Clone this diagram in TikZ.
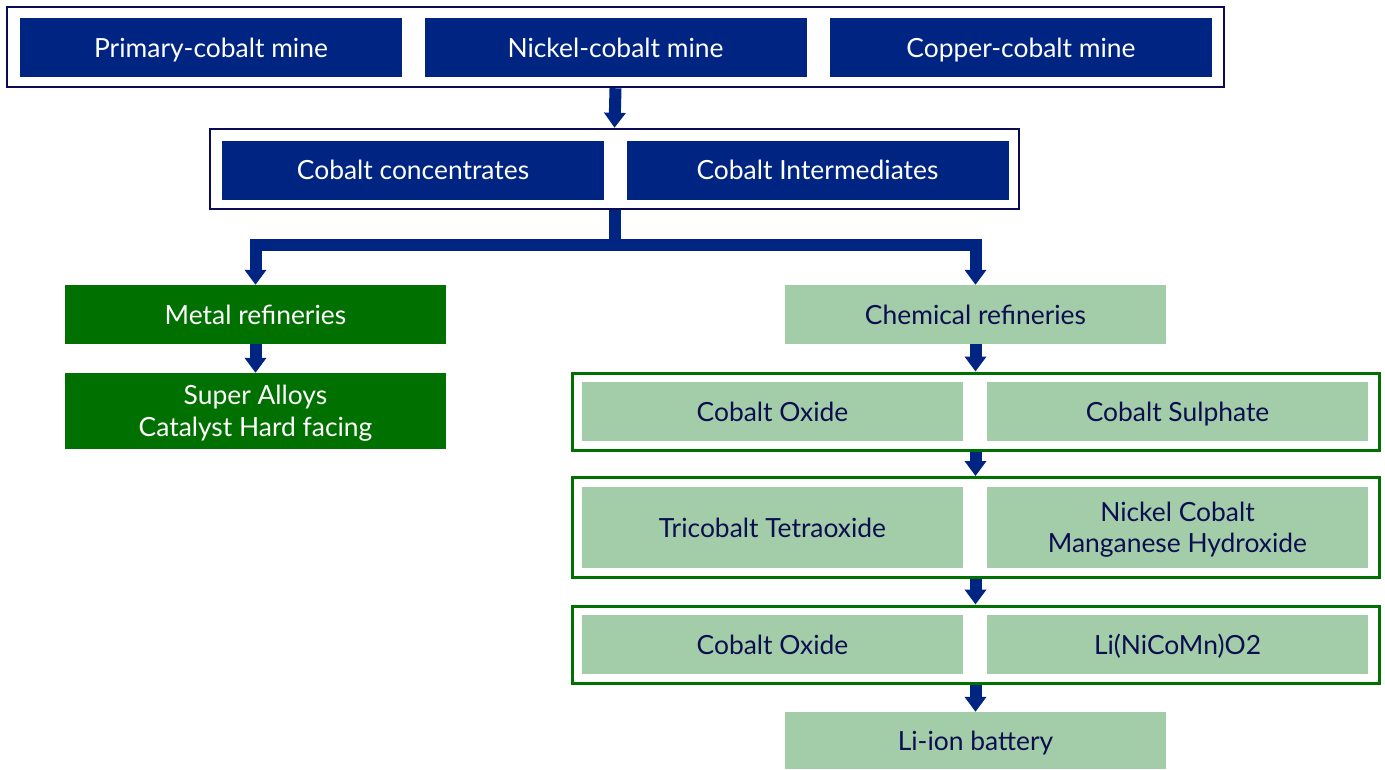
\documentclass[tikz,border=0pt]{standalone}
\usepackage{fontspec}
\setmainfont{Lato}
\usetikzlibrary{arrows.meta}
\definecolor{navy}{RGB}{0,36,130}
\definecolor{framenavy}{RGB}{10,10,85}
\definecolor{dgreen}{RGB}{0,112,0}
\definecolor{lgreen}{RGB}{163,205,168}
\definecolor{txtnavy}{RGB}{12,14,80}
\newcommand\cstrut{\rule[-0.3em]{0pt}{1.32em}}
\newcommand\tstr{\rule{0pt}{1.02em}}
\newcommand\bstr{\rule[-0.3em]{0pt}{0.3em}}
\tikzset{
  base/.style={rectangle, inner sep=0pt, align=center, font=\fontsize{26.5}{31.5}\selectfont},
  navybox/.style={base, fill=navy, text=white, minimum width=382bp, minimum height=59bp},
  dgbox/.style={base, fill=dgreen, text=white, minimum width=381bp},
  lgbox/.style={base, fill=lgreen, text=txtnavy, minimum width=381bp},
  navyframe/.style={rectangle, draw=framenavy, line width=2.5bp, inner sep=0pt},
  greenframe/.style={rectangle, draw=dgreen, line width=3bp, inner sep=0pt},
  flow/.style={draw=navy, line width=12bp},
  flowarrow/.style={flow, -{Triangle[width=21bp,length=15bp]}},
}
\begin{document}
\begin{tikzpicture}[x=1bp,y=-1bp]
\useasboundingbox (0,0) rectangle (1385,769);
% top frame
\node[navyframe, minimum width=1217bp, minimum height=80bp] (f1) at (615.5,47) {};
\node[navybox] (pcm) at (211,47.5) {Primary-cobalt mine\cstrut};
\node[navybox] (ncm) at (615.5,47.5) {Nickel-cobalt mine\cstrut};
\node[navybox] (ccm) at (1021,47.5) {Copper-cobalt mine\cstrut};
% second frame
\node[navyframe, minimum width=809bp, minimum height=80bp] (f2) at (614.5,169) {};
\node[navybox] (conc) at (413,170) {Cobalt concentrates\cstrut};
\node[navybox] (inter) at (817.5,170) {Cobalt Intermediates\cstrut};
% left branch
\node[dgbox, minimum height=59bp] (metal) at (255.5,314.5) {Metal refineries\cstrut};
\node[dgbox, minimum height=76bp] (alloys) at (255.5,411) {\tstr Super Alloys\\Catalyst Hard facing\bstr};
% right branch
\node[lgbox, minimum height=59bp] (chem) at (975.5,314.5) {Chemical refineries\cstrut};
\node[greenframe, minimum width=807bp, minimum height=77bp] (g1) at (975.5,411.5) {};
\node[lgbox, minimum height=59bp] (oxide1) at (772.5,411.5) {Cobalt Oxide\cstrut};
\node[lgbox, minimum height=59bp] (sulph) at (1177.5,411.5) {Cobalt Sulphate\cstrut};
\node[greenframe, minimum width=807bp, minimum height=100bp] (g2) at (975.5,527.5) {};
\node[lgbox, minimum height=81bp] (trico) at (772.5,527.5) {Tricobalt Tetraoxide\cstrut};
\node[lgbox, minimum height=81bp] (ncmh) at (1177.5,527.5) {\tstr Nickel Cobalt\\Manganese Hydroxide\bstr};
\node[greenframe, minimum width=807bp, minimum height=77bp] (g3) at (975.5,644.5) {};
\node[lgbox, minimum height=59bp] (oxide2) at (772.5,644.5) {Cobalt Oxide\cstrut};
\node[lgbox, minimum height=59bp] (limo) at (1177.5,644.5) {Li(NiCoMn)O2\cstrut};
\node[lgbox, minimum height=57bp] (battery) at (975.5,740.5) {Li-ion battery\cstrut};
% connectors
\draw[flowarrow] (f1.south) -- (f2.north);
\coordinate (j) at (614.5,245);
\draw[flow] (f2.south) -- (j);
\draw[flowarrow, line join=miter] (j) -| (metal.north);
\draw[flowarrow, line join=miter] (j) -| (chem.north);
\draw[flowarrow] (metal.south) -- (alloys.north);
\draw[flowarrow] (chem.south) -- (g1.north);
\draw[flowarrow] (g1.south) -- (g2.north);
\draw[flowarrow] (g2.south) -- (g3.north);
\draw[flowarrow] (g3.south) -- (battery.north);
\end{tikzpicture}
\end{document}
